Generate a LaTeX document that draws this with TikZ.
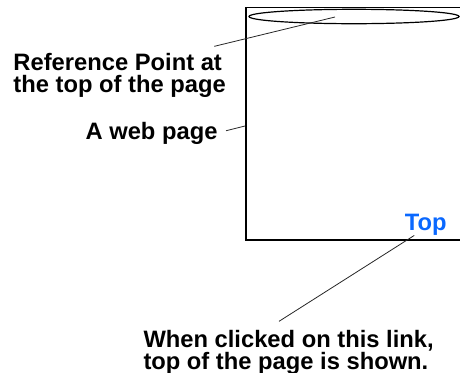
\documentclass[tikz,border=0pt]{standalone}
\usepackage{fontspec}
\setmainfont{Liberation Sans}
\definecolor{linkblue}{RGB}{10,104,255}

\tikzset{every picture/.style={line width=0.75pt}}
\tikzset{
  callout/.style={inner sep=0pt, align=left, font=\fontsize{17.8}{16}\selectfont\bfseries},
  leader/.style={line width=0.6pt, color=black!85}
}

\begin{document}
\begin{tikzpicture}[x=0.75pt,y=0.75pt,yscale=-1,xscale=1]
    \useasboundingbox (0,0) rectangle (460,372);
    \clip (0,0) rectangle (460,372);

    %Shape: Rectangle (the web page, runs past the right edge)
    \draw [line width=1pt]  (246,7.5) -- (480,7.5) -- (480,240) -- (246,240) -- cycle ;
    %Shape: Ellipse (reference point)
    \draw [line width=0.9pt]  (354,16.5) ellipse (105 and 7.2) ;

    \coordinate (refPoint) at (335,17);
    \coordinate (pageEdge) at (245,126);

    % Text Node
    \node [callout, anchor=north west] (refLabel) at (13,53) {Reference Point at\\the top of the page};
    % Text Node
    \node [callout, anchor=base east] (webLabel) at (218,139.5) {A web page};
    % Text Node
    \node [callout, anchor=base east, text=linkblue] (topLink) at (447,230) {Top};
    % Text Node
    \node [callout, anchor=north west, font=\fontsize{17.8}{15}\selectfont\bfseries] (clickLabel) at (143,330) {When clicked on this link,\\top of the page is shown.};

    %Straight Lines
    \draw [leader]  ([xshift=-9pt,yshift=-5pt]refLabel.north east) -- (refPoint) ;
    %Straight Lines
    \draw [leader]  ([xshift=6pt,yshift=-2pt]webLabel.east) -- (pageEdge) ;
    %Straight Lines
    \draw [leader]  ([xshift=7.5pt]topLink.south west) -- ([xshift=102pt,yshift=-6.5pt]clickLabel.north west) ;
\end{tikzpicture}
\end{document}
